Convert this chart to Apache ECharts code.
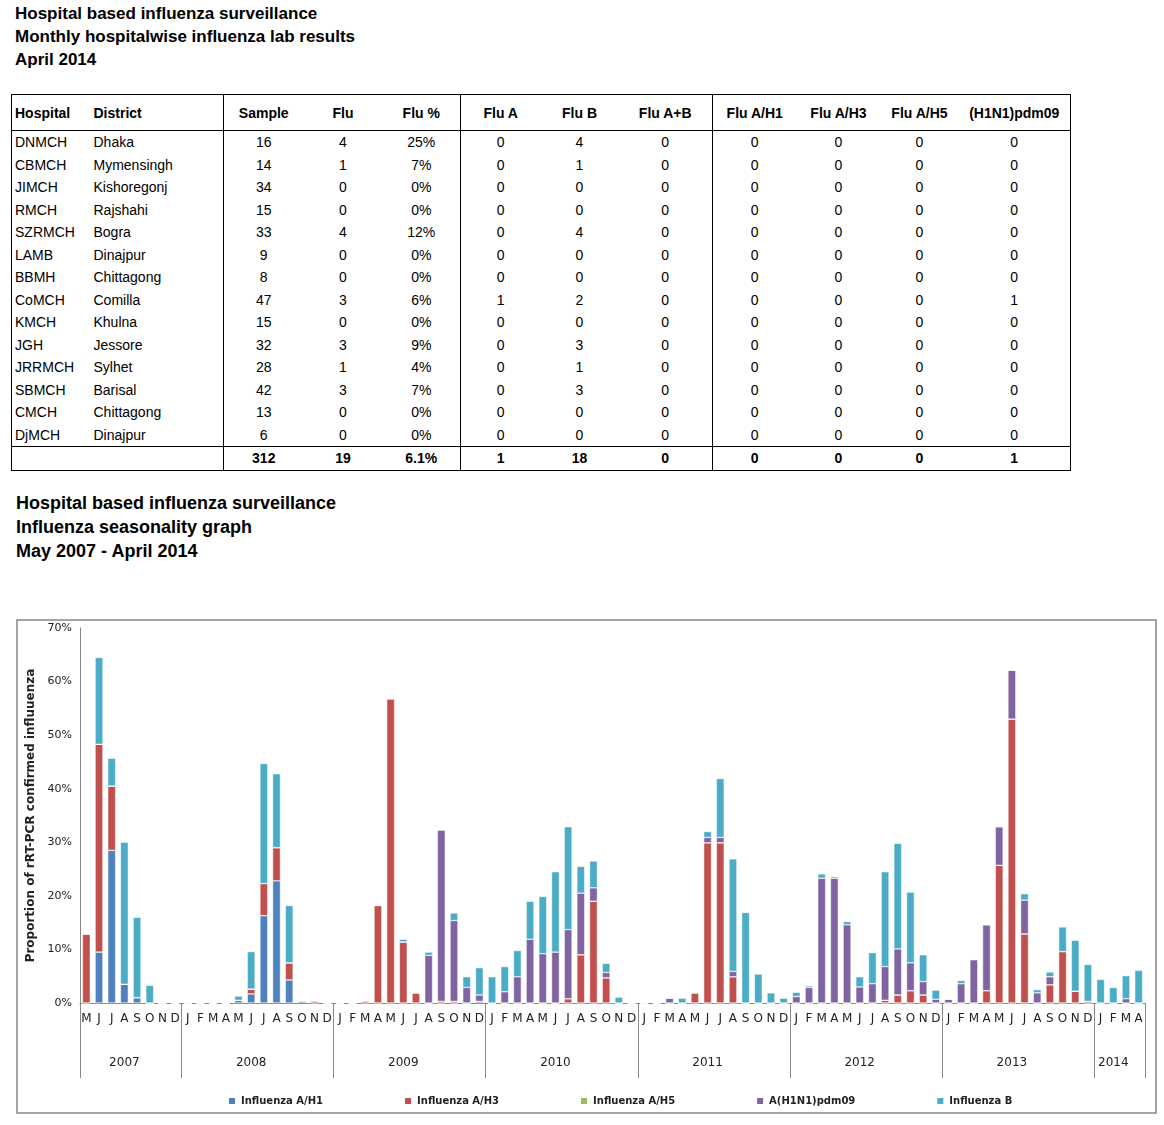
<!DOCTYPE html>
<html><head><meta charset="utf-8">
<script src="https://cdn.jsdelivr.net/npm/echarts@6/dist/echarts.min.js"></script>
<style>
body{margin:0;background:#fff;font-family:"Liberation Sans",Arial,sans-serif;}
.t{position:absolute;left:15px;font-weight:bold;font-size:17px;line-height:23px;color:#000;}
.t2{position:absolute;left:16px;font-weight:bold;font-size:18px;line-height:24px;color:#000;}
table{position:absolute;left:11px;top:94px;border-collapse:collapse;font-size:14px;table-layout:fixed;}
td,th{padding:0;height:22.5px;text-align:center;}
th{height:35px;font-weight:bold;}
.l{text-align:left;padding-left:3px;}
.vb{border-right:1px solid #000;}
#chart{position:absolute;left:0;top:600px;width:1164px;height:525px;}
</style></head><body>
<div class="t" style="top:2px">Hospital based influenza surveillance<br>Monthly hospitalwise influenza lab results<br>April 2014</div>
<div id="tbl"></div>
<div class="t2" style="top:491px">Hospital based influenza surveillance<br>Influenza seasonality graph<br>May 2007 - April 2014</div>
<div id="chart"></div>
<script>
// ---- table data ----
const hospitals=["DNMCH","CBMCH","JIMCH","RMCH","SZRMCH","LAMB","BBMH","CoMCH","KMCH","JGH","JRRMCH","SBMCH","CMCH","DjMCH"];
const districts=["Dhaka","Mymensingh","Kishoregonj","Rajshahi","Bogra","Dinajpur","Chittagong","Comilla","Khulna","Jessore","Sylhet","Barisal","Chittagong","Dinajpur"];
const samples=[16,14,34,15,33,9,8,47,15,32,28,42,13,6];
const flu=[4,1,0,0,4,0,0,3,0,3,1,3,0,0];
const fluPct=["25%","7%","0%","0%","12%","0%","0%","6%","0%","9%","4%","7%","0%","0%"];
const fluA=[0,0,0,0,0,0,0,1,0,0,0,0,0,0];
const fluB=[4,1,0,0,4,0,0,2,0,3,1,3,0,0];
const fluAB=[0,0,0,0,0,0,0,0,0,0,0,0,0,0];
const fluH1=[0,0,0,0,0,0,0,0,0,0,0,0,0,0];
const fluH3=[0,0,0,0,0,0,0,0,0,0,0,0,0,0];
const fluH5=[0,0,0,0,0,0,0,0,0,0,0,0,0,0];
const fluPdm=[0,0,0,0,0,0,0,1,0,0,0,0,0,0];
const totals=["312","19","6.1%","1","18","0","0","0","0","1"];
const headers=["Hospital","District","Sample","Flu","Flu %","Flu A","Flu B","Flu A+B","Flu A/H1","Flu A/H3","Flu A/H5","(H1N1)pdm09"];

// ---- chart data (% per month, May 2007 - Apr 2014) ----
const years=["2007","2008","2009","2010","2011","2012","2013","2014"];
const monthLetters=["J","F","M","A","M","J","J","A","S","O","N","D"];
const seriesNames=["Influenza A/H1","Influenza A/H3","Influenza A/H5","A(H1N1)pdm09","Influenza B"];
const h1=[0,9.5,28.5,3.5,1,0,0,0,
 0,0,0,0,0.5,1.7,16.3,22.8,4.3,0.4,0,0,
 0,0,0,0,0,0,0,0,0,0,0,0.3,
 0,0,0,0,0,0,0,0,0,0,0,0,
 0,0,0,0,0,0,0,0,0,0,0,0,
 0,0,0,0,0,0,0,0,0,0,0,0,
 0,0,0,0,0,0,0,0,0,0,0,0,
 0,0,0,0];
const h3=[12.9,38.8,12,0,0,0,0,0,
 0,0,0,0,0,0.9,6,6.2,3.2,0,0.4,0,
 0,0,0.4,18.2,56.8,11.4,1.9,0,0.3,0.3,0,0,
 0,0,0,0,0,0,0.8,9.0,19.0,4.7,0,0,
 0,0,0,0,1.9,29.9,29.9,4.9,0,0,0,0,
 0,0,0,0,0,0,0,0.5,1.5,2.3,1.5,0,
 0,0,0,2.3,25.7,53.0,12.9,0,3.4,9.6,2.2,0.3,
 0,0,0,0];
const h5=new Array(84).fill(0);
const pdm=[0,0,0,0,0,0,0,0,
 0,0,0,0,0,0,0,0,0,0,0,0,
 0,0,0,0,0,0,0,8.9,32.0,15.1,2.9,1.2,
 0,2.1,4.9,11.9,9.2,9.5,12.9,11.5,2.5,1.0,0,0,
 0,0,0.9,0,0,1.0,1.0,1.0,0,0,0,0,
 1.2,2.9,23.3,23.3,14.6,3.0,3.6,6.3,8.6,5.2,2.5,0.7,
 0.7,3.6,8.1,12.3,7.2,9.1,6.3,1.9,1.5,0,0,0,
 0,0,0.8,0];
const fb=[0,16.2,5.2,26.5,15,3.3,0,0,
 0,0,0,0,0.8,7,22.4,13.8,10.7,0,0,0,
 0,0,0,0,0,0.5,0,0.6,0,1.4,2.0,5.1,
 4.9,4.7,4.9,7.1,10.7,15.0,19.2,5.0,5.0,1.7,1.1,0,
 0,0,0,0.9,0,1.1,11.0,21.0,16.9,5.4,1.9,0.9,
 0.8,0.3,0.8,0.3,0.6,1.9,5.8,17.7,19.7,13.2,5.0,1.7,
 0,0.6,0,0,0,0,1.2,0.6,0.9,4.6,9.5,6.9,
 4.4,2.9,4.3,6.1];

// build table
(function(){
  const widths=[79,133,80,79,78,80,78,94,84,84,78,112];
  let h='<table><colgroup>'+widths.map(w=>'<col style="width:'+w+'px">').join('')+'</colgroup>';
  const vb=i=>(i===1||i===4||i===7)?' vb':'';
  h+='<tr style="border-top:1px solid #000;border-bottom:1px solid #000;border-left:1px solid #000;border-right:1px solid #000">'+headers.map((x,i)=>'<th class="'+(i<2?'l':'')+vb(i)+'">'+x+'</th>').join('')+'</tr>';
  hospitals.forEach((hn,r)=>{
    const cells=[hn,districts[r],samples[r],flu[r],fluPct[r],fluA[r],fluB[r],fluAB[r],fluH1[r],fluH3[r],fluH5[r],fluPdm[r]];
    h+='<tr style="border-left:1px solid #000;border-right:1px solid #000">'+cells.map((x,i)=>'<td class="'+(i<2?'l':'')+vb(i)+'">'+x+'</td>').join('')+'</tr>';
  });
  h+='<tr style="border-top:1px solid #000;border-bottom:1px solid #000;border-left:1px solid #000;border-right:1px solid #000;font-weight:bold"><td></td><td class="vb"></td>'+totals.map((x,i)=>'<td class="'+vb(i+2)+'">'+x+'</td>').join('')+'</tr></table>';
  document.getElementById('tbl').innerHTML=h;
})();

// categories
const months=[];const yearOf=[];
years.forEach((y,yi)=>{
  const start=yi===0?4:0, end=yi===years.length-1?4:12;
  for(let m=start;m<end;m++){months.push(monthLetters[m]);yearOf.push(y);}
});
const yearLabelIdx={};const yearStart={};
years.forEach(y=>{const idx=yearOf.map((v,i)=>v===y?i:-1).filter(i=>i>=0);yearLabelIdx[Math.floor((idx[0]+idx[idx.length-1])/2)]=y;yearStart[idx[0]]=true;});

const colors=["#4f81bd","#c0504d","#9bbb59","#8064a2","#4bacc6"];
const chart=echarts.init(document.getElementById('chart'));
const vals=[h1,h3,h5,pdm,fb];
chart.setOption({
  animation:false,
  color:colors,
  graphic:[{type:'rect',shape:{x:17,y:20,width:1139,height:493},style:{fill:'none',stroke:'#888',lineWidth:1.5},silent:true}],
  grid:{left:80,right:19,top:28,bottom:122},
  legend:{bottom:14,left:222,itemGap:80,itemWidth:8,itemHeight:8,icon:'rect',
    textStyle:{fontSize:10,fontWeight:'bold',color:'#222',fontFamily:'DejaVu Sans'},data:seriesNames},
  xAxis:[
    {type:'category',data:months,axisTick:{show:false},axisLine:{lineStyle:{color:'#888'}},
     axisLabel:{interval:0,fontSize:12,color:'#222',margin:10,fontFamily:'DejaVu Sans'}},
    {type:'category',data:yearOf,position:'bottom',axisLine:{show:false},
     axisTick:{show:true,length:75,interval:(i)=>!!yearStart[i]||i===0,lineStyle:{color:'#888'}},
     axisLabel:{interval:(i)=>yearLabelIdx[i]!==undefined,margin:54,fontSize:12,color:'#222',fontFamily:'DejaVu Sans'}}
  ],
  yAxis:{type:'value',min:0,max:70,interval:10,axisLine:{show:true,lineStyle:{color:'#888'}},splitLine:{show:false},
    axisLabel:{formatter:'{value}%',fontSize:11,color:'#222',fontFamily:'DejaVu Sans'},
    name:'Proportion of rRT-PCR confirmed influuenza',nameLocation:'middle',nameGap:40,
    nameTextStyle:{fontSize:12,fontWeight:'bold',color:'#222',fontFamily:'DejaVu Sans'}},
  series:seriesNames.map((n,i)=>({name:n,type:'bar',stack:'a',data:vals[i],barWidth:'62%',xAxisIndex:0,
    itemStyle:{borderColor:'#fff',borderWidth:0.5}}))
});
// extend last boundary tick: draw final boundary via year axis end tick
</script></body></html>
